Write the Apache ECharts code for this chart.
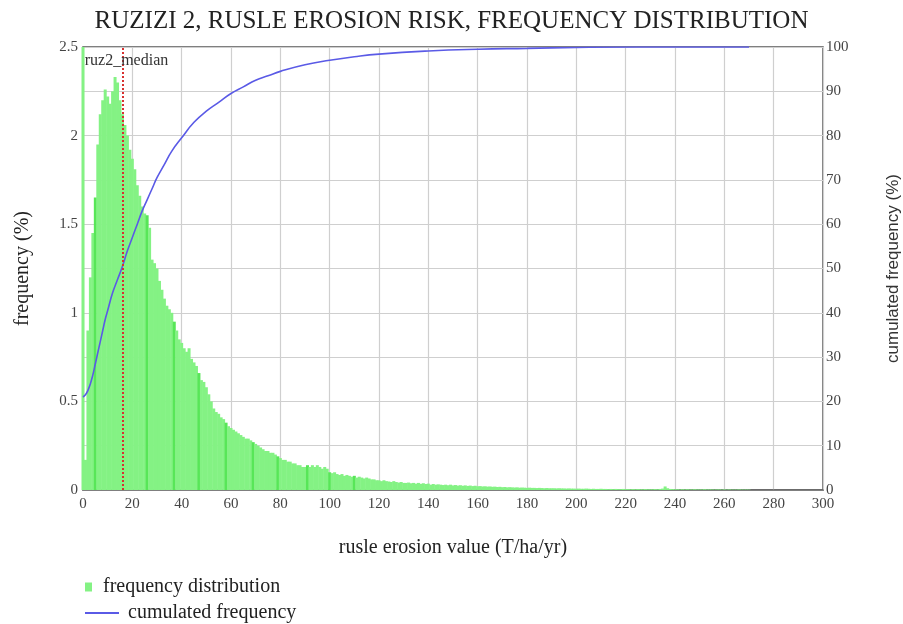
<!DOCTYPE html>
<html>
<head>
<meta charset="utf-8">
<title>RUZIZI 2 RUSLE</title>
<script src="https://cdn.jsdelivr.net/npm/echarts@6/dist/echarts.min.js"></script>
<style>
    html, body {margin: 0; padding: 0; background: #fff;}
    #main {width: 903px; height: 624px;}
</style>
</head>
<body>
<div id="main"></div>
<script>
//frequency per 1 T/ha/yr bin, index = rusle erosion value
var freq = [
    20.5, 0.17, 0.9, 1.2, 1.45, 1.65, 1.95, 2.12, 2.2, 2.26,
    2.22, 2.18, 2.25, 2.33, 2.3, 2.2, 2.12, 2.06, 2.0, 1.92,
    1.87, 1.81, 1.72, 1.66, 1.6, 1.56, 1.55, 1.48, 1.3, 1.28,
    1.25, 1.18, 1.13, 1.08, 1.04, 1.02, 1.0, 0.95, 0.9, 0.85,
    0.83, 0.8, 0.78, 0.8, 0.74, 0.72, 0.7, 0.66, 0.62, 0.61,
    0.58, 0.54, 0.5, 0.46, 0.44, 0.43, 0.41, 0.4, 0.38, 0.36,
    0.35, 0.34, 0.33, 0.32, 0.31, 0.3, 0.29, 0.29, 0.28, 0.27,
    0.26, 0.25, 0.24, 0.23, 0.22, 0.22, 0.21, 0.21, 0.2, 0.19,
    0.18, 0.17, 0.17, 0.16, 0.16, 0.15, 0.15, 0.14, 0.14, 0.13,
    0.13, 0.14, 0.13, 0.14, 0.13, 0.14, 0.13, 0.12, 0.13, 0.12,
    0.1, 0.095, 0.1, 0.09, 0.085, 0.09, 0.08, 0.085, 0.08, 0.075,
    0.08, 0.07, 0.075, 0.07, 0.065, 0.07, 0.065, 0.06, 0.06, 0.055,
    0.055, 0.05, 0.055, 0.05, 0.048, 0.045, 0.05, 0.045, 0.042, 0.045,
    0.04, 0.04, 0.042, 0.038, 0.04, 0.036, 0.04, 0.035, 0.038, 0.034,
    0.036, 0.03, 0.034, 0.03, 0.032, 0.03, 0.028, 0.03, 0.027, 0.03,
    0.026, 0.028, 0.025, 0.027, 0.024, 0.026, 0.023, 0.025, 0.022, 0.024,
    0.021, 0.022, 0.02, 0.021, 0.019, 0.02, 0.018, 0.019, 0.017, 0.018,
    0.016, 0.017, 0.015, 0.016, 0.015, 0.014, 0.015, 0.013, 0.014, 0.013,
    0.012, 0.013, 0.012, 0.012, 0.011, 0.012, 0.011, 0.01, 0.011, 0.01,
    0.01, 0.01, 0.009, 0.01, 0.009, 0.009, 0.008, 0.009, 0.008, 0.008,
    0.007, 0.008, 0.007, 0.007, 0.008, 0.007, 0.006, 0.007, 0.006, 0.006,
    0.007, 0.006, 0.006, 0.005, 0.006, 0.005, 0.006, 0.005, 0.005, 0.006,
    0.005, 0.005, 0.004, 0.005, 0.004, 0.005, 0.004, 0.004, 0.005, 0.004,
    0.004, 0.004, 0.005, 0.004, 0.006, 0.008, 0.02, 0.01, 0.006, 0.005,
    0.004, 0.004, 0.003, 0.004, 0.003, 0.004, 0.003, 0.003, 0.004, 0.003,
    0.003, 0.003, 0.004, 0.003, 0.003, 0.003, 0.002, 0.003, 0.003, 0.002,
    0.003, 0.002, 0.003, 0.002, 0.002, 0.002, 0.003, 0.002, 0.002, 0.002,
    0.002
];

//cumulated frequency (%)
var cumX = [0, 1, 2, 3, 4, 5, 6, 7, 8, 9, 10, 12, 14, 16, 18, 20, 22, 24, 26, 28,
    30, 33, 36, 40, 45, 50, 55, 60, 65, 70, 75, 80, 90, 100, 110, 120, 140, 160, 180, 200, 225, 270];
var cumY = [21, 21.5, 22.5, 24, 26, 28.5, 31, 33.5, 36, 38.5, 40.5, 44.5, 47.5, 50.5, 54, 57, 60, 63, 65.5, 68,
    70.5, 73.5, 76.5, 79.5, 83, 85.5, 87.5, 89.5, 91, 92.5, 93.5, 94.5, 96, 97, 97.8, 98.4, 99.1, 99.5, 99.7, 99.9, 100, 100];

var medianValue = 16;

//bins drawn a bit darker in the original picture
var darkBins = [5, 26, 37, 47, 58, 69, 79, 91, 100, 110];

var serif = 'Liberation Serif';
var sans = 'Liberation Sans';

var freqData = [], cumData = [];
for (var i = 0; i < freq.length; i++) {
    if (darkBins.indexOf(i) >= 0) {
        freqData.push({value: [i, freq[i]], itemStyle: {color: '#58e658'}});
    } else {
        freqData.push([i, freq[i]]);
    }
}
for (var j = 0; j < cumX.length; j++) {
    cumData.push([cumX[j], cumY[j]]);
}

var chart = echarts.init(document.getElementById('main'), null, {renderer: 'canvas'});

chart.setOption({
    animation: false,
    backgroundColor: '#fff',
    title: {
        text: 'RUZIZI 2, RUSLE EROSION RISK, FREQUENCY DISTRIBUTION',
        left: 'center', top: 4,
        textStyle: {fontFamily: serif, fontSize: 25, fontWeight: 'normal', color: '#222'}
    },
    legend: [{
        data: ['frequency distribution'],
        left: 80, top: 572,
        itemWidth: 7, itemHeight: 9,
        icon: 'rect',
        textStyle: {fontFamily: serif, fontSize: 20, color: '#222', padding: [0, 0, 0, 6]}
    }, {
        data: ['cumulated frequency'],
        left: 80, top: 598,
        itemWidth: 34, itemHeight: 2,
        icon: 'rect',
        textStyle: {fontFamily: serif, fontSize: 20, color: '#222', padding: [0, 0, 0, 4]}
    }],
    grid: {
        left: 83, right: 80, top: 47, bottom: 134,
        outerBoundsMode: 'none',
        show: true, borderColor: '#555', borderWidth: 1.5
    },
    xAxis: {
        type: 'value', min: 0, max: 300, interval: 20,
        name: 'rusle erosion value (T/ha/yr)', nameLocation: 'middle', nameGap: 48,
        nameTextStyle: {fontFamily: serif, fontSize: 20, color: '#222'},
        axisLine: {show: true, lineStyle: {color: '#666', width: 1.5}},
        axisTick: {show: false},
        axisLabel: {fontFamily: serif, fontSize: 15, color: '#444', margin: 7},
        splitLine: {show: true, lineStyle: {color: '#cfcfcf', width: 1.2}}
    },
    yAxis: [{
        type: 'value', min: 0, max: 2.5, interval: 0.5,
        name: 'frequency (%)', nameLocation: 'middle', nameGap: 50,
        nameTextStyle: {fontFamily: serif, fontSize: 20, color: '#222'},
        axisLine: {show: false},
        axisTick: {show: false},
        axisLabel: {fontFamily: serif, fontSize: 15, color: '#444', margin: 5},
        splitLine: {show: false}
    }, {
        type: 'value', min: 0, max: 100, interval: 10,
        name: 'cumulated frequency (%)', nameLocation: 'middle', nameGap: 62,
        nameTextStyle: {fontFamily: sans, fontSize: 17, color: '#333'},
        axisLine: {show: false},
        axisTick: {show: false},
        axisLabel: {fontFamily: serif, fontSize: 15, color: '#444', margin: 3},
        splitLine: {show: true, lineStyle: {color: '#cfcfcf', width: 1.2}}
    }],
    series: [{
        name: 'frequency distribution',
        type: 'bar',
        yAxisIndex: 0,
        barWidth: 3,
        clip: true,
        itemStyle: {color: '#84f284'},
        emphasis: {disabled: true},
        data: freqData,
        markLine: {
            silent: true,
            symbol: 'none',
            lineStyle: {color: '#d83030', type: 'dotted', width: 2},
            label: {
                show: true, position: 'end', distance: -22,
                formatter: 'ruz2_median', padding: [0, 0, 0, 8],
                fontFamily: serif, fontSize: 16, color: '#333'
            },
            data: [{xAxis: medianValue}]
        },
        z: 2
    }, {
        name: 'cumulated frequency',
        type: 'line',
        yAxisIndex: 1,
        smooth: true,
        showSymbol: false,
        lineStyle: {color: '#5a5ae6', width: 1.6},
        itemStyle: {color: '#5a5ae6'},
        data: cumData,
        z: 3
    }]
});

window.onresize = chart.resize;
</script>
</body>
</html>
